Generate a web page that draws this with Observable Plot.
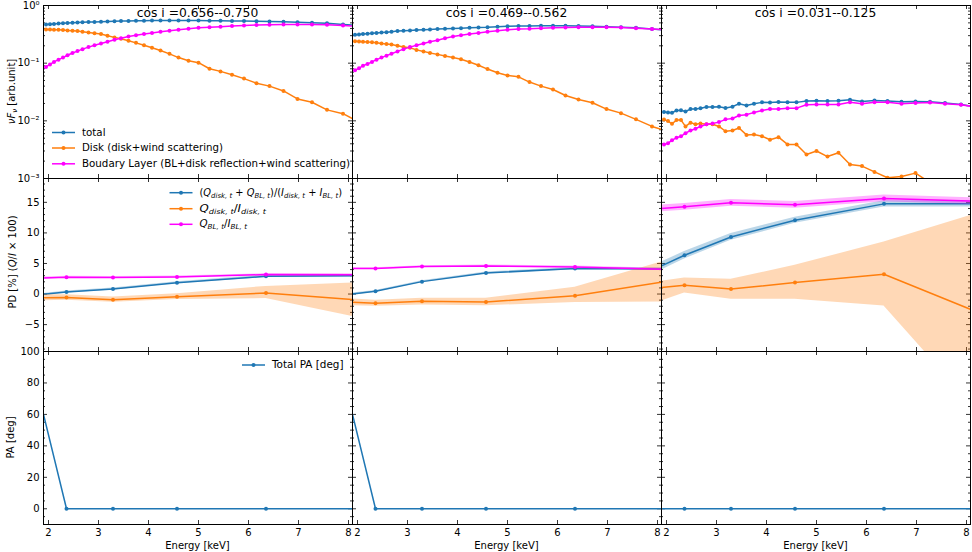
<!DOCTYPE html>
<html><head><meta charset="utf-8">
<script src="https://cdn.jsdelivr.net/npm/d3@7"></script>
<script src="https://cdn.jsdelivr.net/npm/@observablehq/plot@0.6"></script>
<style>
body{margin:0;background:#fff;}
#fig{position:relative;width:972px;height:552px;font-family:"DejaVu Sans",sans-serif;}
#fig svg{position:absolute;left:0;top:0;}
</style></head><body><div id="fig"></div>
<script>
// ---------- data ----------
const energy = [1.95, 2.03, 2.11, 2.20, 2.29, 2.38, 2.48, 2.58, 2.68, 2.80, 2.92, 3.05, 3.18, 3.32, 3.45, 3.60, 3.75, 3.91, 4.07, 4.24, 4.42, 4.60, 4.80, 5.00, 5.22, 5.44, 5.67, 5.91, 6.16, 6.42, 6.70, 6.98, 7.27, 7.57, 7.89, 8.22];

const total1 = [0.47, 0.475, 0.48, 0.485, 0.49, 0.495, 0.50, 0.505, 0.51, 0.515, 0.52, 0.525, 0.53, 0.535, 0.54, 0.54, 0.545, 0.545, 0.55, 0.55, 0.55, 0.55, 0.55, 0.55, 0.545, 0.545, 0.54, 0.54, 0.535, 0.53, 0.525, 0.51, 0.50, 0.49, 0.47, 0.45];
const disk1 = [0.385, 0.383, 0.38, 0.378, 0.375, 0.37, 0.365, 0.36, 0.35, 0.34, 0.33, 0.32, 0.30, 0.28, 0.265, 0.245, 0.225, 0.205, 0.185, 0.166, 0.145, 0.125, 0.11, 0.102, 0.08, 0.072, 0.063, 0.054, 0.045, 0.040, 0.033, 0.024, 0.021, 0.0155, 0.0133, 0.0095];
const bl1 = [0.086, 0.095, 0.105, 0.115, 0.125, 0.137, 0.15, 0.162, 0.175, 0.19, 0.205, 0.22, 0.235, 0.255, 0.27, 0.29, 0.305, 0.32, 0.335, 0.35, 0.365, 0.38, 0.395, 0.41, 0.42, 0.43, 0.44, 0.45, 0.46, 0.465, 0.47, 0.47, 0.47, 0.465, 0.45, 0.43];

const total2 = [0.31, 0.315, 0.32, 0.325, 0.33, 0.335, 0.34, 0.345, 0.35, 0.36, 0.365, 0.37, 0.375, 0.38, 0.385, 0.39, 0.395, 0.40, 0.405, 0.41, 0.415, 0.42, 0.43, 0.435, 0.44, 0.44, 0.445, 0.445, 0.445, 0.44, 0.435, 0.43, 0.42, 0.41, 0.39, 0.37];
const disk2 = [0.24, 0.238, 0.235, 0.232, 0.23, 0.225, 0.22, 0.215, 0.21, 0.20, 0.19, 0.185, 0.17, 0.16, 0.15, 0.142, 0.133, 0.125, 0.117, 0.105, 0.092, 0.079, 0.068, 0.061, 0.058, 0.047, 0.040, 0.035, 0.0275, 0.0235, 0.0206, 0.016, 0.0136, 0.0106, 0.008, 0.0065];
const bl2 = [0.075, 0.082, 0.09, 0.097, 0.105, 0.115, 0.125, 0.135, 0.146, 0.16, 0.175, 0.19, 0.205, 0.22, 0.235, 0.25, 0.27, 0.29, 0.305, 0.32, 0.335, 0.35, 0.365, 0.38, 0.39, 0.395, 0.405, 0.41, 0.415, 0.42, 0.42, 0.42, 0.415, 0.405, 0.39, 0.375];

const total3 = [0.0142, 0.014, 0.0138, 0.0151, 0.0153, 0.0145, 0.016, 0.016, 0.0165, 0.0173, 0.0173, 0.0176, 0.0167, 0.0176, 0.0198, 0.0185, 0.0198, 0.0209, 0.0207, 0.0213, 0.0211, 0.0209, 0.022, 0.0222, 0.022, 0.0222, 0.0232, 0.0217, 0.0225, 0.022, 0.0214, 0.0217, 0.0214, 0.0204, 0.0192, 0.0172];
const disk3 = [0.0105, 0.0099, 0.0089, 0.0103, 0.0103, 0.008, 0.0093, 0.0087, 0.009, 0.0087, 0.0087, 0.008, 0.0066, 0.0068, 0.0075, 0.0057, 0.0058, 0.0054, 0.0047, 0.0052, 0.0039, 0.0039, 0.0026, 0.003, 0.0024, 0.0028, 0.00175, 0.00164, 0.0013, 0.00103, 0.00108, 0.00124, 0.00085, 0.0007, 0.0006, 0.0005];
const bl3 = [0.0039, 0.0041, 0.0046, 0.0051, 0.0054, 0.0061, 0.0068, 0.0073, 0.008, 0.0087, 0.009, 0.0095, 0.0106, 0.011, 0.0124, 0.0128, 0.014, 0.0151, 0.016, 0.016, 0.0166, 0.0166, 0.019, 0.0192, 0.0192, 0.0192, 0.021, 0.0198, 0.021, 0.021, 0.0198, 0.0204, 0.0207, 0.0198, 0.019, 0.0172];

const pdEnergy = [1.9, 2.36, 3.29, 4.57, 6.35, 8.1];

const pdTotal1 = [-0.05, 0.33, 0.82, 1.86, 2.9, 3.0];
const pdTotalErr1 = [0.15, 0.15, 0.15, 0.15, 0.2, 0.2];
const pdDisk1 = [-0.6, -0.55, -0.92, -0.43, 0.17, -0.92];
const pdDiskLo1 = [-1.1, -1.0, -1.35, -0.9, -0.75, -3.7];
const pdDiskHi1 = [-0.1, -0.1, -0.5, 0.05, 1.25, 1.8];
const pdBL1 = [2.62, 2.74, 2.7, 2.8, 3.18, 3.15];
const pdBLErr1 = [0.15, 0.15, 0.15, 0.15, 0.15, 0.15];

const pdTotal2 = [0.0, 0.44, 2.03, 3.45, 4.16, 4.1];
const pdTotalErr2 = [0.15, 0.15, 0.15, 0.15, 0.2, 0.2];
const pdDisk2 = [-1.36, -1.52, -1.2, -1.3, -0.27, 1.97];
const pdDiskLo2 = [-1.9, -2.0, -1.8, -1.9, -1.4, -1.3];
const pdDiskHi2 = [-0.8, -1.0, -0.7, -0.7, 1.1, 5.3];
const pdBL2 = [4.16, 4.16, 4.49, 4.6, 4.43, 4.05];
const pdBLErr2 = [0.15, 0.15, 0.15, 0.15, 0.15, 0.15];

const pdTotal3 = [4.6, 6.34, 9.34, 12.08, 14.75, 14.75];
const pdTotalErr3 = [0.65, 0.6, 0.55, 0.5, 0.5, 0.5];
const pdDisk3 = [1.05, 1.43, 0.82, 1.87, 3.23, -2.56];
const pdDiskLo3 = [-1.15, 0.16, -0.87, -0.87, -1.97, -18];
const pdDiskHi3 = [2.08, 2.62, 2.4, 4.7, 8.5, 12.9];
const pdBL3 = [14.0, 14.26, 14.92, 14.6, 15.64, 15.2];
const pdBLErr3 = [0.55, 0.55, 0.55, 0.55, 0.55, 0.55];

const pa1 = [60, 0, 0, 0, 0, 0];
const pa2 = [60, 0, 0, 0, 0, 0];
const pa3 = [0, 0, 0, 0, 0, 0];

const titles = ["cos i =0.656--0.750", "cos i =0.469--0.562", "cos i =0.031--0.125"];
const xTicks = [2, 3, 4, 5, 6, 7, 8];
const specTicks = [1e-3, 1e-2, 1e-1, 1];
const specLabels = ["10⁻³", "10⁻²", "10⁻¹", "10⁰"];
const specMinor = [2e-3,3e-3,4e-3,5e-3,6e-3,7e-3,8e-3,9e-3,2e-2,3e-2,4e-2,5e-2,6e-2,7e-2,8e-2,9e-2,0.2,0.3,0.4,0.5,0.6,0.7,0.8,0.9];
const pdTicks = [-5, 0, 5, 10, 15];
const pdMinor = [-9,-8,-7,-6,-4,-3,-2,-1,1,2,3,4,6,7,8,9,11,12,13,14,16,17,18];
const paTicks = [0, 20, 40, 60, 80, 100];
const paMinor = [-5, 5, 10, 15, 25, 30, 35, 45, 50, 55, 65, 70, 75, 85, 90, 95];

// ---------- layout ----------
const FW = 972, FH = 552;
const W = 309, H = 173;
const X0 = [43, 352, 661];
const Y0 = [5, 178, 351];
const C_BLUE = "#1f77b4", C_ORANGE = "#ff7f0e", C_MAG = "#ff00ff";
const FONT = "DejaVu Sans, sans-serif";

function tickMarks(yMaj, yMin) {
  const L = 4, l = 2, s = {stroke: "black", strokeWidth: 0.8};
  return [
    Plot.ruleX(xTicks, {x: d => d, insetBottom: H - L, ...s}),
    Plot.ruleX(xTicks, {x: d => d, insetTop: H - L, ...s}),
    Plot.ruleY(yMaj, {y: d => d, insetRight: W - L, ...s}),
    Plot.ruleY(yMaj, {y: d => d, insetLeft: W - L, ...s}),
    Plot.ruleY(yMin, {y: d => d, insetRight: W - l, ...s}),
    Plot.ruleY(yMin, {y: d => d, insetLeft: W - l, ...s})
  ];
}

function panel(r, c, yOpts, marks) {
  return Plot.plot({
    width: FW, height: FH,
    marginLeft: X0[c], marginRight: FW - X0[c] - W,
    marginTop: Y0[r], marginBottom: FH - Y0[r] - H,
    style: {background: "transparent", fontFamily: FONT, fontSize: "10px", color: "black", overflow: "visible"},
    x: {domain: [1.9, 8.08], ticks: xTicks, tickFormat: d3.format("d"), tickSize: 0, tickPadding: 4, axis: r === 2 ? "bottom" : null, label: null},
    y: {...yOpts, tickSize: 0, tickPadding: 4, axis: c === 0 ? "left" : null, label: null},
    marks: [...marks, Plot.frame({stroke: "black", strokeWidth: 1})]
  });
}

const fig = document.getElementById("fig");
const spec = [[total1, disk1, bl1], [total2, disk2, bl2], [total3, disk3, bl3]];
const pds = [
  [pdTotal1, pdTotalErr1, pdDisk1, pdDiskLo1, pdDiskHi1, pdBL1, pdBLErr1],
  [pdTotal2, pdTotalErr2, pdDisk2, pdDiskLo2, pdDiskHi2, pdBL2, pdBLErr2],
  [pdTotal3, pdTotalErr3, pdDisk3, pdDiskLo3, pdDiskHi3, pdBL3, pdBLErr3]
];
const pas = [pa1, pa2, pa3];

function seriesMarks(data, color) {
  return [
    Plot.line(data, {x: "e", y: "v", stroke: color, strokeWidth: 1.5, clip: true}),
    Plot.dot(data, {x: "e", y: "v", fill: color, r: 2, clip: true})
  ];
}

for (let c = 0; c < 3; c++) {
  // spectra
  const [t, d, b] = spec[c];
  const mk = arr => energy.map((e, i) => ({e, v: arr[i]}));
  fig.appendChild(panel(0, c,
    {type: "log", domain: [1e-3, 1], ticks: specTicks, tickFormat: v => specLabels[specTicks.indexOf(v)]},
    [...tickMarks(specTicks, specMinor), ...seriesMarks(mk(t), C_BLUE), ...seriesMarks(mk(d), C_ORANGE), ...seriesMarks(mk(b), C_MAG)]));

  // polarization degree
  const [pt, pte, pdk, pdlo, pdhi, pb, pbe] = pds[c];
  const tot = pdEnergy.map((e, i) => ({e, v: pt[i], lo: pt[i] - pte[i], hi: pt[i] + pte[i]}));
  const dsk = pdEnergy.map((e, i) => ({e, v: pdk[i], lo: pdlo[i], hi: pdhi[i]}));
  const blp = pdEnergy.map((e, i) => ({e, v: pb[i], lo: pb[i] - pbe[i], hi: pb[i] + pbe[i]}));
  const pdMarks = (data, color) => [
    Plot.areaY(data, {x: "e", y1: "lo", y2: "hi", fill: color, fillOpacity: 0.3, clip: true}),
    Plot.line(data, {x: "e", y: "v", stroke: color, strokeWidth: 1.5, clip: true}),
    Plot.dot(data.slice(1, 5), {x: "e", y: "v", fill: color, r: 2, clip: true})
  ];
  fig.appendChild(panel(1, c,
    {domain: [-9.4, 18.9], ticks: pdTicks},
    [...tickMarks(pdTicks, pdMinor), ...pdMarks(tot, C_BLUE), ...pdMarks(dsk, C_ORANGE), ...pdMarks(blp, C_MAG)]));

  // polarization angle
  const pa = pdEnergy.map((e, i) => ({e, v: pas[c][i]}));
  fig.appendChild(panel(2, c,
    {domain: [-10, 100], ticks: paTicks},
    [...tickMarks(paTicks, paMinor),
     Plot.line(pa, {x: "e", y: "v", stroke: C_BLUE, strokeWidth: 1.5, clip: true}),
     Plot.dot(pa.slice(1, 5), {x: "e", y: "v", fill: C_BLUE, r: 2, clip: true})]));
}

// ---------- annotations overlay ----------
const ov = d3.create("svg").attr("width", FW).attr("height", FH)
  .style("font-family", FONT).style("overflow", "visible");

X0.forEach((x, c) => {
  ov.append("text").attr("x", x + W / 2).attr("y", 17).attr("text-anchor", "middle")
    .attr("font-size", 12.3).text(titles[c]);
  ov.append("text").attr("x", x + W / 2).attr("y", 549).attr("text-anchor", "middle")
    .attr("font-size", 10).text("Energy [keV]");
});

function mathText(g, x, y, parts, size) {
  const t = g.append("text").attr("x", x).attr("y", y).attr("font-size", size).attr("dominant-baseline", "middle");
  let down = 0;
  parts.forEach(([s, k]) => {
    const sp = t.append("tspan").text(s);
    if (k === "i") sp.attr("font-style", "italic");
    if (k === "s") {
      sp.attr("font-style", "italic").attr("font-size", size * 0.7);
      if (down === 0) { sp.attr("dy", size * 0.3); down = size * 0.3; }
    } else if (down !== 0) { sp.attr("dy", -down); down = 0; }
  });
  return t;
}

// y labels (rotated)
function yLabel(cx, cy, parts) {
  const g = ov.append("g").attr("transform", `translate(${cx},${cy}) rotate(-90)`);
  mathText(g, 0, 0, parts, 10).attr("text-anchor", "middle");
}
yLabel(12, 91.5, [["ν", "i"], ["F", "i"], ["ν", "s"], [" [arb.unit]", "n"]]);
yLabel(13, 262, [["PD [%] (", "n"], ["Q", "i"], ["/", "n"], ["I", "i"], [" × 100)", "n"]]);
yLabel(11, 437.5, [["PA [deg]", "n"]]);

// legends
function legendRow(x, y, color, parts, len) {
  ov.append("line").attr("x1", x).attr("x2", x + 23).attr("y1", y).attr("y2", y)
    .attr("stroke", color).attr("stroke-width", 1.5);
  ov.append("circle").attr("cx", x + 11.5).attr("cy", y).attr("r", 2).attr("fill", color);
  const t = mathText(ov, x + 30, y, parts, 10);
  if (len) t.attr("textLength", len).attr("lengthAdjust", "spacingAndGlyphs");
}
legendRow(52, 132.5, C_BLUE, [["total", "n"]], 23.5);
legendRow(52, 148, C_ORANGE, [["Disk (disk+wind scattering)", "n"]], 141);
legendRow(52, 163.8, C_MAG, [["Boudary Layer (BL+disk reflection+wind scattering)", "n"]], 268);

legendRow(169.5, 192.7, C_BLUE, [["(", "n"], ["Q", "i"], ["disk, t", "s"], [" + ", "n"], ["Q", "i"], ["BL, t", "s"], [")/(", "n"], ["I", "i"], ["disk, t", "s"], [" + ", "n"], ["I", "i"], ["BL, t", "s"], [")", "n"]], 142.5);
legendRow(169.5, 208.7, C_ORANGE, [["Q", "i"], ["disk, t", "s"], ["/", "n"], ["I", "i"], ["disk, t", "s"]], 66.5);
legendRow(169.5, 224.3, C_MAG, [["Q", "i"], ["BL, t", "s"], ["/", "n"], ["I", "i"], ["BL, t", "s"]], 47.5);

legendRow(242, 365, C_BLUE, [["Total PA [deg]", "n"]], 71.5);

fig.appendChild(ov.node());
</script>
</body></html>
